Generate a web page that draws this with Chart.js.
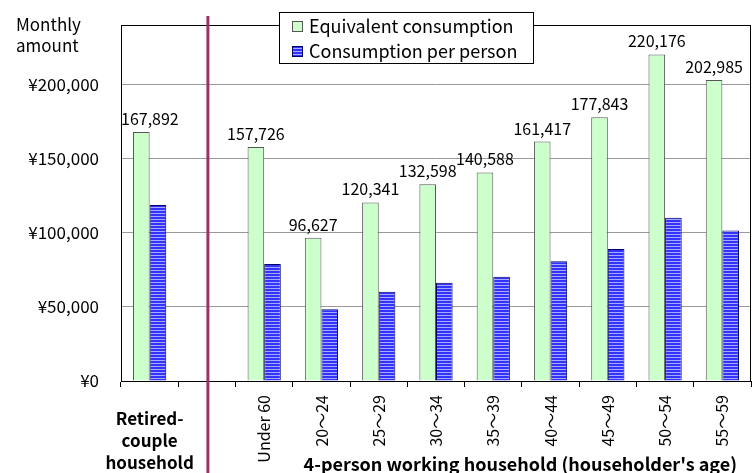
<!DOCTYPE html>
<html>
<head>
<meta charset="utf-8">
<script src="https://cdn.jsdelivr.net/npm/chart.js@4"></script>
<style>
  html, body { margin: 0; padding: 0; background: #fff; }
  #wrap { width: 753px; height: 473px; position: relative; }
</style>
</head>
<body>
<div id="wrap"><canvas id="consumptionChart"></canvas></div>
<script>
(function () {
  "use strict";

  // categories (index 1 is the empty gap with the divider line)
  const categories = ['Retired-couple household', '', 'Under 60', '20～24', '25～29', '30～34', '35～39', '40～44', '45～49', '50～54', '55～59'];
  const groupTitle = "4-person working household (householder's age)";
  const seriesNames = ['Equivalent consumption', 'Consumption per person'];
  const equivalentValues = [167892, null, 157726, 96627, 120341, 132598, 140588, 161417, 177843, 220176, 202985];
  const perPersonValues = [118718, null, 78863, 48314, 60171, 66299, 70294, 80709, 88922, 110088, 101493];
  const yTicks = [0, 50000, 100000, 150000, 200000];
  const yMax = 240000;

  const fontFamily = '"Noto Sans CJK JP", "Noto Sans", sans-serif';
  Chart.defaults.font.family = fontFamily;
  Chart.defaults.font.size = 16;
  Chart.defaults.color = '#000';

  const green_fill = '#ccffcc';
  const green_border = '#555555';
  const blue_border = '#000066';
  const divider_color = '#993366';

  // striped blue fill
  const pc = document.createElement('canvas');
  pc.width = 4; pc.height = 3;
  const pctx = pc.getContext('2d');
  pctx.fillStyle = '#3333ff';
  pctx.fillRect(0, 0, 4, 3);
  pctx.fillStyle = '#a8a8ff';
  pctx.fillRect(0, 0, 4, 1);

  const canvas = document.getElementById('consumptionChart');
  const ctx = canvas.getContext('2d');
  const blue_stripes = ctx.createPattern(pc, 'repeat');

  const fmt = (v) => v.toLocaleString('en-US');

  // frame, divider, legend, labels
  const decorations = {
    id: 'decorations',
    afterDatasetsDraw(chart) {
      const c = chart.ctx;
      const area = chart.chartArea;

      // value labels above green bars
      const meta = chart.getDatasetMeta(0);
      c.save();
      c.font = '16px ' + fontFamily;
      c.fillStyle = '#000';
      c.textAlign = 'center';
      c.textBaseline = 'alphabetic';
      meta.data.forEach((bar, i) => {
        const v = equivalentValues[i];
        if (v == null) return;
        const txt = fmt(v);
        const w = c.measureText(txt).width;
        let px = Math.max(bar.x, area.left + w / 2);
        c.fillText(txt, px, bar.y - 7);
      });
      c.restore();
    },
    afterDraw(chart) {
      const c = chart.ctx;
      const area = chart.chartArea;
      const x = chart.scales.x;

      // plot frame
      c.save();
      c.strokeStyle = '#000';
      c.lineWidth = 1;
      c.strokeRect(area.left + 0.5, area.top + 0.5, area.right - area.left - 1, area.bottom - area.top);
      c.restore();

      // divider between household types
      const dx = x.getPixelForValue(1) + 1;
      c.save();
      c.strokeStyle = divider_color;
      c.lineWidth = 3;
      c.beginPath();
      c.moveTo(dx, 16);
      c.lineTo(dx, chart.height);
      c.stroke();
      c.restore();

      // y-axis title
      c.save();
      c.font = '17px ' + fontFamily;
      c.fillStyle = '#000';
      c.textAlign = 'left';
      c.textBaseline = 'middle';
      c.fillText('Monthly', 16, 25);
      c.fillText('amount', 16, 46);
      c.restore();

      // category label for retired couple (horizontal, bold)
      c.save();
      c.font = 'bold 17px ' + fontFamily;
      c.fillStyle = '#000';
      c.textAlign = 'center';
      c.textBaseline = 'middle';
      const rx = x.getPixelForValue(0);
      categories[0].replace('-', '-\n').split(/\n| /).forEach((line, k) => {
        c.fillText(line, rx, 419 + k * 22);
      });
      // group title for working households
      c.font = 'bold 18px ' + fontFamily;
      const gx = (x.getPixelForValue(2) + x.getPixelForValue(categories.length - 1)) / 2 + 27;
      c.fillText(groupTitle, gx, 464);
      c.restore();

      // legend box
      const lx = 279, ly = 12, lw = 254, lh = 51;
      c.save();
      c.fillStyle = '#fff';
      c.fillRect(lx, ly, lw, lh);
      c.strokeStyle = '#000';
      c.lineWidth = 1;
      c.strokeRect(lx + 0.5, ly + 0.5, lw, lh);
      c.font = '18px ' + fontFamily;
      c.textAlign = 'left';
      c.textBaseline = 'middle';
      chart.data.datasets.forEach((ds, k) => {
        const cy = 26 + k * 25;
        c.fillStyle = ds.backgroundColor;
        c.fillRect(292, cy - 5, 11, 11);
        c.strokeStyle = ds.borderColor;
        c.strokeRect(292.5, cy - 4.5, 10, 10);
        c.fillStyle = '#000';
        c.fillText(ds.label, 309, cy);
      });
      c.restore();
    }
  };

  new Chart(ctx, {
    type: 'bar',
    data: {
      labels: categories,
      datasets: [{
        label: seriesNames[0],
        data: equivalentValues,
        backgroundColor: green_fill,
        borderColor: green_border,
        borderWidth: 1
      }, {
        label: seriesNames[1],
        data: perPersonValues,
        backgroundColor: blue_stripes,
        borderColor: blue_border,
        borderWidth: 1
      }]
    },
    options: {
      responsive: true,
      maintainAspectRatio: false,
      animation: false,
      categoryPercentage: 0.58,
      barPercentage: 1.0,
      layout: {
        padding: { top: 25, right: 2, left: 0, bottom: 0 }
      },
      plugins: {
        legend: { display: false },
        tooltip: { enabled: false }
      },
      scales: {
        x: {
          grid: {
            drawOnChartArea: false,
            drawTicks: true,
            tickLength: 6,
            color: '#000',
            offset: true
          },
          border: { color: '#000', width: 1 },
          ticks: {
            autoSkip: false,
            minRotation: 90,
            maxRotation: 90,
            padding: 8,
            font: { size: 16 },
            color: '#000',
            callback: (v, i) => (i < 2 ? '' : categories[i])
          },
          afterFit: (s) => {
            s.height = 92;
            s.paddingLeft = 0; s.paddingRight = 0;
            s.paddingTop = 0; s.paddingBottom = 0;
          }
        },
        y: {
          min: 0,
          max: yMax,
          afterBuildTicks: (s) => { s.ticks = yTicks.map((v) => ({ value: v })); },
          grid: {
            color: '#9a9a9a',
            drawTicks: false
          },
          border: { color: '#000', width: 1 },
          ticks: {
            padding: 22,
            font: { size: 17 },
            color: '#000',
            callback: (v) => '¥' + fmt(v)
          },
          afterFit: (s) => {
            s.width = 121;
            s.paddingLeft = 0; s.paddingRight = 0;
            s.paddingTop = 0; s.paddingBottom = 0;
          }
        }
      }
    },
    plugins: [decorations]
  });
})();
</script>
</body>
</html>
